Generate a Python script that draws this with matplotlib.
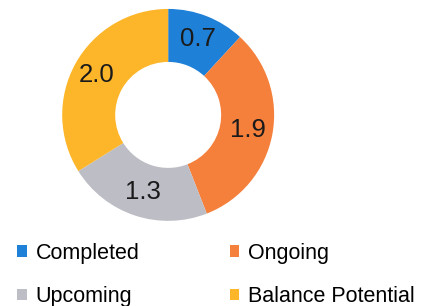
import matplotlib
matplotlib.use("Agg")
from matplotlib import pyplot as plt
import numpy as np

plt.rcParams['font.family'] = ['Liberation Sans', 'DejaVu Sans']

categorias = ["Completed", "Ongoing", "Upcoming", "Balance Potential"]
valores = [0.7, 1.9, 1.3, 2.0]
cores = ["#1f80d8", "#f5803c", "#bdbdc6", "#fdb62a"]

fig = plt.figure(figsize=(4.29, 3.06), dpi=100)
ax = fig.add_axes([0.145, 0.278, 0.494, 0.693])

fatias, textos = ax.pie(valores, colors=cores, startangle=90, counterclock=False,
                        radius=1.0, wedgeprops=dict(width=0.5, linewidth=0))

# rotulos no meio do anel
for fatia, v in zip(fatias, valores):
    ang = np.deg2rad((fatia.theta1 + fatia.theta2) / 2)
    ax.text(0.77 * np.cos(ang), 0.77 * np.sin(ang), f"{v:.1f}",
            ha="center", va="center", fontsize=18.5, color="#1a1a1a")

ax.set_xlim(-1, 1)
ax.set_ylim(-1, 1)
ax.set_aspect("equal")

# legenda em 2 colunas (preenche por coluna)
ordem = [0, 2, 1, 3]
fig.legend([fatias[i] for i in ordem], [categorias[i] for i in ordem],
           ncol=2, loc="upper left", bbox_to_anchor=(0.04, 0.207),
           frameon=False, fontsize=15.5, borderpad=0, borderaxespad=0,
           handlelength=0.45, handleheight=0.45, handletextpad=0.4,
           columnspacing=4.2, labelspacing=1.05)

fig.savefig("out.png", dpi=100)
